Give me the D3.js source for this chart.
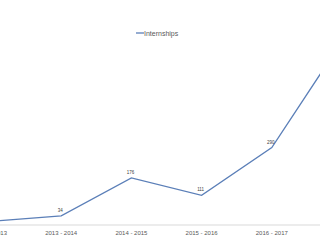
<!DOCTYPE html>
<html>
<head>
<meta charset="utf-8">
<script src="https://cdn.jsdelivr.net/npm/d3@7.9.0/dist/d3.min.js"></script>
<style>
  body { margin: 0; background: #fff; }
  svg { display: block; font-family: "Liberation Sans", Arial, sans-serif; }
</style>
</head>
<body>
<svg id="chart" width="320" height="240"></svg>
<script>
// chart data (chart is cropped on both sides)
const years = ['2012 - 2013', '2013 - 2014', '2014 - 2015', '2015 - 2016', '2016 - 2017', '2017 - 2018'];
const internships = [14, 34, 176, 111, 290, 688];
const seriesName = 'Internships';

const svg = d3.select('#chart');

const x = d3.scalePoint().domain(years).range([-9, 342]);
const y = d3.scaleLinear().domain([0, 700]).range([225, 38]);

// baseline axis
svg.append('line')
    .attr('x1', 0).attr('x2', 320)
    .attr('y1', y(0)).attr('y2', y(0))
    .attr('stroke', '#d9d9d9')
    .attr('stroke-width', 1);

// category labels
svg.selectAll('text.tick')
    .data(years)
    .join('text')
    .attr('class', 'tick')
    .attr('x', d => x(d))
    .attr('y', 235)
    .attr('text-anchor', 'middle')
    .attr('font-size', 6)
    .attr('fill', '#595959')
    .text(d => d);

// the line
const line = d3.line()
    .x((d, i) => x(years[i]))
    .y(d => y(d));

svg.append('path')
    .datum(internships)
    .attr('d', line)
    .attr('fill', 'none')
    .attr('stroke', '#5b7fb8')
    .attr('stroke-width', 1.3);

// data labels
svg.selectAll('text.lbl')
    .data(internships)
    .join('text')
    .attr('class', 'lbl')
    .attr('x', (d, i) => x(years[i]) - 1)
    .attr('y', d => y(d) - 4)
    .attr('text-anchor', 'middle')
    .attr('font-size', 4.5)
    .attr('fill', '#404040')
    .text(d => d);

// legend
const legend = svg.append('g').attr('transform', 'translate(136,33)');
legend.append('line')
    .attr('x1', 0).attr('x2', 8)
    .attr('y1', 0).attr('y2', 0)
    .attr('stroke', '#5b7fb8')
    .attr('stroke-width', 1.3);
legend.append('text')
    .attr('x', 8)
    .attr('y', 2.5)
    .attr('font-size', 7)
    .attr('fill', '#595959')
    .text(seriesName);
</script>
</body>
</html>
